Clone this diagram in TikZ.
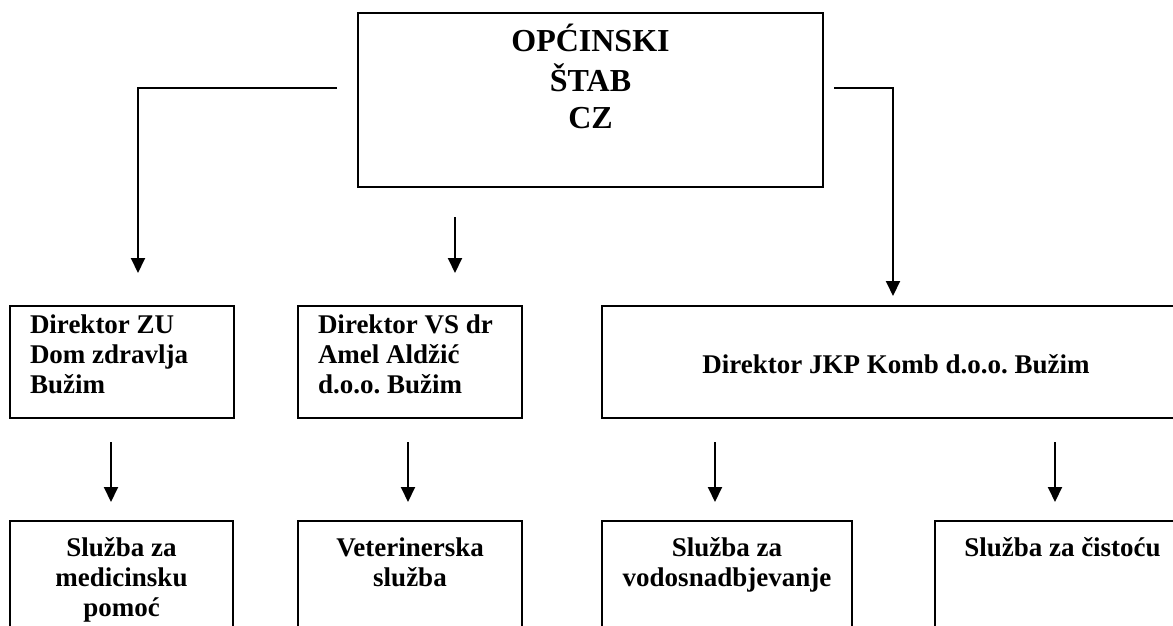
\documentclass[tikz,border=0pt]{standalone}
\usepackage{fontspec}
\setmainfont{Liberation Serif}
\usetikzlibrary{arrows.meta}
\frenchspacing
\newcommand\btext[5]{\parbox[c][#2][t]{#1}{#4\vspace*{#3}\strut #5}}
\tikzset{
  box/.style={draw, line width=2pt, inner sep=0pt},
  topfont/.style={font=\bfseries\fontsize{32}{37.5}\selectfont},
  rowfont/.style={font=\bfseries\fontsize{27}{30}\selectfont},
  arr/.style={line width=2pt, -{Triangle[length=15pt,width=14pt]}},
}
\begin{document}
\begin{tikzpicture}[x=1pt,y=-1pt]
\useasboundingbox (0,0) rectangle (1173,626);
\clip (0,0) rectangle (1173,626);
% top box
\node[box, topfont] (stab) at (590.5,100)
  {\btext{465pt}{174pt}{11pt}{\centering}{OPĆINSKI\\ŠTAB\\CZ}};
% second row
\node[box, rowfont] (zu) at (122,362)
  {\btext{224pt}{112pt}{6pt}{\raggedright\leftskip=20pt}{Direktor ZU\\Dom zdravlja\\Bužim}};
\node[box, rowfont] (vs) at (410,362)
  {\btext{224pt}{112pt}{6pt}{\raggedright\leftskip=20pt}{Direktor VS dr\\Amel Aldžić\\d.o.o. Bužim}};
\node[box, rowfont] (jkp) at (896,362)
  {\btext{588pt}{112pt}{46pt}{\centering}{Direktor JKP Komb d.o.o. Bužim}};
% third row
\node[box, rowfont] (med) at (121.5,611)
  {\btext{223pt}{180pt}{14pt}{\centering}{Služba za\\medicinsku\\pomoć}};
\node[box, rowfont] (vet) at (410,611)
  {\btext{224pt}{180pt}{14pt}{\centering}{Veterinerska\\služba}};
\node[box, rowfont] (vod) at (727,611)
  {\btext{250pt}{180pt}{14pt}{\centering}{Služba za\\vodosnadbjevanje}};
\node[box, rowfont] (cis) at (1062.5,611)
  {\btext{255pt}{180pt}{14pt}{\centering}{Služba za čistoću}};
% connectors from the top box
\coordinate (l0) at (337,88);  \coordinate (l1) at (138,273);
\coordinate (m0) at (455,217); \coordinate (m1) at (455,273);
\coordinate (r0) at (834,88);  \coordinate (r1) at (893,296);
\draw[arr] (l0) -| (l1);
\draw[arr] (m0) -- (m1);
\draw[arr] (r0) -| (r1);
% connectors second to third row
\coordinate (a0) at (111,442);  \coordinate (a1) at (111,502);
\coordinate (b0) at (408,442);  \coordinate (b1) at (408,502);
\coordinate (c0) at (715,442);  \coordinate (c1) at (715,502);
\coordinate (d0) at (1055,442); \coordinate (d1) at (1055,502);
\draw[arr] (a0) -- (a1);
\draw[arr] (b0) -- (b1);
\draw[arr] (c0) -- (c1);
\draw[arr] (d0) -- (d1);
\end{tikzpicture}
\end{document}
